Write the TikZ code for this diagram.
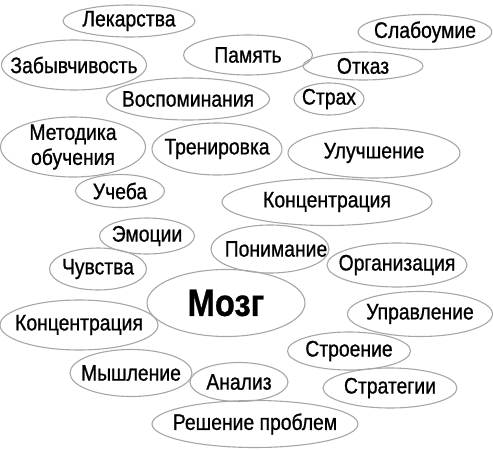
\documentclass[tikz,border=0pt]{standalone}
\usepackage{fontspec}
\setmainfont[FakeStretch=0.86,FakeBold=0.8]{Liberation Sans}
\usetikzlibrary{shapes.geometric}

\begin{document}
\begin{tikzpicture}[x=1pt, y=-1pt,
    bubble/.style={ellipse, draw=gray!70, line width=1.1pt, inner sep=0pt},
    every label/.style={align=center, inner sep=0pt, font=\fontsize{22.5}{25}\selectfont}]
    \useasboundingbox (0,0) rectangle (493,450);
    % upper part
    \node[bubble, minimum width=132, minimum height=32, label=center:Лекарства] (lek) at (129,21) {};
    \node[bubble, minimum width=145, minimum height=50, label=center:Забывчивость] (zab) at (74,65) {};
    \node[bubble, minimum width=129, minimum height=40, label=center:Память] (pam) at (248,55) {};
    \node[bubble, minimum width=134, minimum height=35, label=center:Слабоумие] (sla) at (425,32) {};
    \node[bubble, minimum width=120, minimum height=28, label=center:Отказ] (otk) at (363,66) {};
    \node[bubble, minimum width=163, minimum height=42, label=center:Воспоминания] (vos) at (188,99) {};
    \node[bubble, minimum width=70, minimum height=32, label=center:Страх] (strah) at (329,99) {};
    % middle part
    \node[bubble, minimum width=145, minimum height=60, label=center:{Методика\\обучения}] (met) at (73,147) {};
    \node[bubble, minimum width=130, minimum height=52, label=center:Тренировка] (tre) at (217,149) {};
    \node[bubble, minimum width=172, minimum height=50, label=center:Улучшение] (ulu) at (374,153) {};
    \node[bubble, minimum width=89, minimum height=33, label=center:Учеба] (uch) at (120,191) {};
    \node[bubble, minimum width=210, minimum height=47, label=center:Концентрация] (konA) at (327,202) {};
    \node[bubble, minimum width=95, minimum height=36, label=center:Эмоции] (emo) at (147,236) {};
    \node[bubble, minimum width=118, minimum height=48, label={[xshift=6pt]center:Понимание}] (pon) at (270,249) {};
    \node[bubble, minimum width=97, minimum height=42, label=center:Чувства] (chu) at (98,269) {};
    \node[bubble, minimum width=140, minimum height=44, label=center:Организация] (org) at (397,265) {};
    % centre
    \node[bubble, minimum width=158, minimum height=67,
      label={[font=\fontsize{38}{42}\selectfont\bfseries]center:Мозг}] (mozg) at (226,303) {};
    % lower part
    \node[bubble, minimum width=158, minimum height=50, label=center:Концентрация] (konB) at (79,325) {};
    \node[bubble, minimum width=145, minimum height=45, label=center:Управление] (upr) at (420,314) {};
    \node[bubble, minimum width=123, minimum height=38, label=center:Строение] (stroe) at (349,351) {};
    \node[bubble, minimum width=122, minimum height=47, label=center:Мышление] (mys) at (131,373) {};
    \node[bubble, minimum width=98, minimum height=39, label=center:Анализ] (ana) at (239,382) {};
    \node[bubble, minimum width=134, minimum height=40, label=center:Стратегии] (strat) at (390,388) {};
    \node[bubble, minimum width=206, minimum height=47, label=center:Решение проблем] (resh) at (255,424) {};
  \end{tikzpicture}
\end{document}
